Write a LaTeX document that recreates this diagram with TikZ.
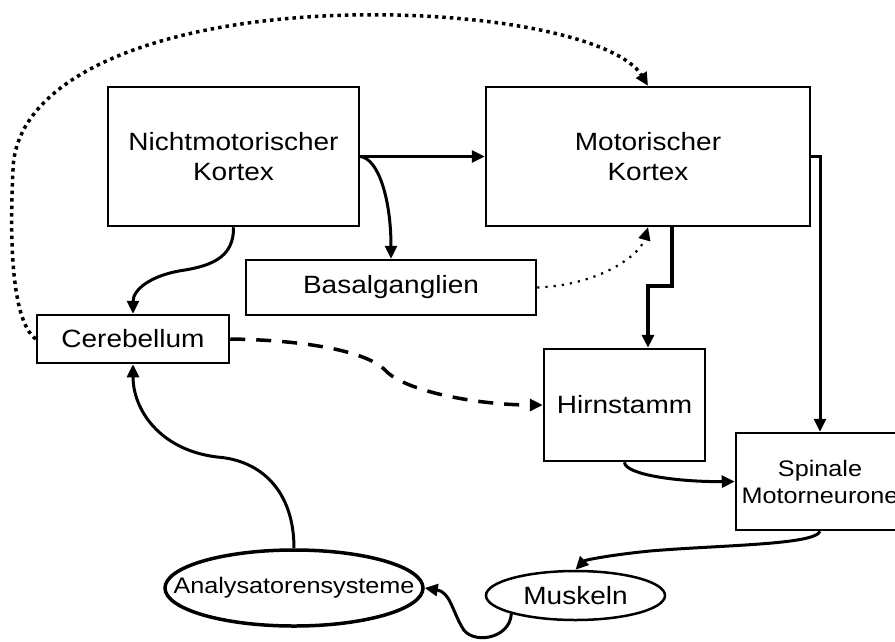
\documentclass[tikz,border=0pt]{standalone}
\usepackage{fontspec}
\setmainfont{Liberation Sans}[FakeStretch=1.12]
\usetikzlibrary{arrows.meta,shapes.geometric}
\newcommand\mainfs{\fontsize{25}{30}\selectfont}
\newcommand\smallfs{\fontsize{22.5}{27}\selectfont}
\newcommand\zw[1]{\makebox[0pt]{#1}}
\begin{document}
\begin{tikzpicture}[x=1pt,y=-1pt,
  box/.style={draw, line width=2.5pt, rectangle, inner sep=0pt, align=center, font=\mainfs},
  oval/.style={draw, ellipse, inner sep=0pt, align=center},
  arr/.style={-{Triangle[length=13pt,width=12pt]}, line width=3pt},
  dotarrow/.style={-{Triangle[length=13pt,width=12pt]}, line width=3.5pt, dash pattern=on 3.5pt off 4pt},
  finedot/.style={-{Triangle[length=13pt,width=12pt]}, line width=2.2pt, dash pattern=on 2.2pt off 6pt},
  dasharrow/.style={-{Triangle[length=13pt,width=12pt]}, line width=3.5pt, dash pattern=on 15pt off 11pt}]
\clip (0,0) rectangle (895,641);
\fill[white] (0,0) rectangle (895,641);

% nodes
\node[box, minimum width=251pt, minimum height=139pt] (nmk) at (233.5,156.5) {Nichtmotorischer\\Kortex};
\node[box, minimum width=324pt, minimum height=139pt] (mk) at (648,156.5) {Motorischer\\Kortex};
\node[box, minimum width=290pt, minimum height=55pt] (bg) at (391,287.5) {Basalganglien};
\node[box, minimum width=192pt, minimum height=48pt] (cb) at (133,339) {Cerebellum};
\node[box, minimum width=161pt, minimum height=112pt] (hs) at (624.5,405) {Hirnstamm};
\node[box, minimum width=168pt, minimum height=97pt, font=\smallfs] (sm) at (820,481.5) {Spinale\\Motorneurone};
\node[oval, line width=3.5pt, minimum width=258pt, minimum height=76pt, font=\smallfs] (an) at (294,588) {\zw{Analysatorensysteme}};
\node[oval, line width=2.5pt, minimum width=179pt, minimum height=49pt, font=\mainfs] (mu) at (575.5,595.5) {\zw{Muskeln}};

% connectors
\draw[arr] (nmk.east) -- (mk.west);
\draw[arr] (nmk.east) .. controls +(18,2) and +(0,-60) .. (bg.north);
\draw[arr] (nmk.south) .. controls (234,255) and (215,265) .. (185,270)
           .. controls (150,275) and (133,290) .. (cb.north);
\draw[finedot] (bg.east) .. controls (600,285) and (640,255) .. (mk.south);
\draw[dotarrow] (cb.west) .. controls (10,320) and (10,230) .. (13,170)
           .. controls (15,80) and (150,20) .. (350,15)
           .. controls (500,12) and (620,40) .. (mk.north);
\draw[arr, line width=4pt] ([xshift=24pt]mk.south) -- ++(0,59) -| ([xshift=23.5pt]hs.north);
\draw[arr] (mk.east) -| (sm.north);
\draw[dasharrow] (cb.east) .. controls (300,340) and (365,350) .. (385,370)
           .. controls (405,392) and (480,405) .. (hs.west);
\draw[arr] (hs.south) .. controls (625,475) and (680,482) .. (sm.west);
\draw[arr] (sm.south) .. controls (815,545) and (720,545) .. (650,551)
           .. controls (610,555) and (585,560) .. (mu.north);
\draw[arr] (mu.south west) .. controls (510,640) and (470,645) .. (462,627)
           .. controls (452,610) and (450,592) .. (an.east);
\draw[arr] (an.north) .. controls (294,490) and (260,460) .. (217,457)
           .. controls (160,450) and (133,410) .. (cb.south);
\end{tikzpicture}
\end{document}
